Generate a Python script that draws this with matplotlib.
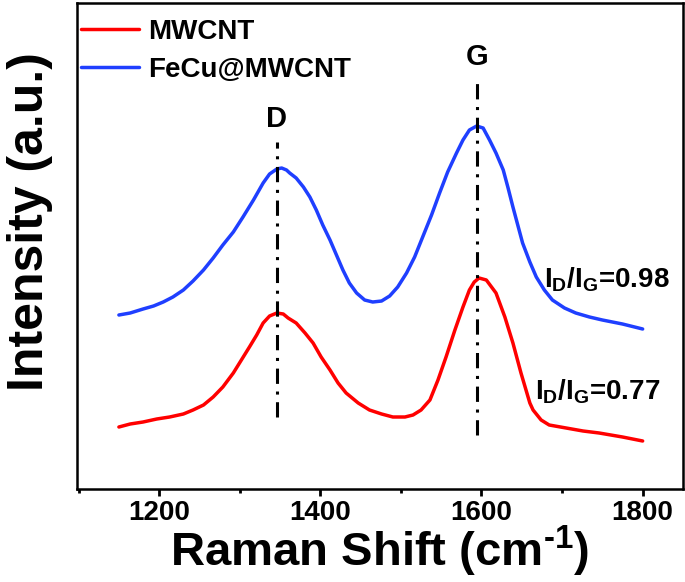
import matplotlib
matplotlib.use("Agg")
import matplotlib.pyplot as plt
from matplotlib.ticker import MultipleLocator

plt.rcParams['font.family'] = ['Liberation Sans', 'DejaVu Sans']
plt.rcParams['font.weight'] = 'bold'
plt.rcParams['mathtext.fontset'] = 'custom'
plt.rcParams['mathtext.rm'] = 'Liberation Sans:bold'
plt.rcParams['mathtext.bf'] = 'Liberation Sans:bold'
plt.rcParams['mathtext.it'] = 'Liberation Sans:bold'

# data (arbitrary intensity units)
shift_blue = [1150, 1164, 1180, 1193, 1205, 1217, 1230, 1242, 1255, 1267, 1279, 1292,
              1304, 1317, 1329, 1337, 1346, 1352, 1358, 1362, 1370, 1379, 1387, 1395,
              1403, 1412, 1420, 1428, 1436, 1445, 1455, 1465, 1476, 1486, 1496, 1507,
              1517, 1527, 1538, 1548, 1558, 1569, 1577, 1585, 1594, 1602, 1610, 1618,
              1627, 1633, 1639, 1645, 1651, 1660, 1668, 1678, 1688, 1703, 1717, 1734,
              1750, 1775, 1800]
int_blue = [174, 176, 180, 183, 187, 192, 199, 208, 219, 231, 244, 257,
            272, 289, 306, 315, 320, 321, 319, 316, 311, 302, 292, 279,
            264, 249, 234, 219, 206, 196, 189, 187, 188, 193, 202, 216,
            232, 252, 274, 296, 317, 336, 349, 359, 363, 361, 349, 336,
            319, 301, 282, 264, 246, 227, 212, 199, 189, 181, 176, 172,
            169, 165, 160]

shift_red = [1150, 1164, 1180, 1197, 1213, 1230, 1242, 1255, 1267, 1279, 1292, 1302,
             1312, 1321, 1329, 1337, 1346, 1354, 1360, 1370, 1381, 1391, 1401, 1412,
             1422, 1432, 1447, 1461, 1476, 1490, 1505, 1515, 1525, 1536, 1546, 1556,
             1567, 1577, 1585, 1591, 1597, 1606, 1618, 1629, 1639, 1649, 1660, 1664,
             1674, 1684, 1705, 1726, 1746, 1775, 1800]
int_red = [62, 65, 67, 70, 72, 75, 79, 84, 92, 102, 116, 129,
           142, 154, 166, 173, 176, 175, 171, 166, 156, 146, 132, 119,
           106, 96, 86, 79, 75, 72, 72, 74, 79, 89, 109, 132,
           159, 182, 199, 207, 211, 209, 196, 172, 146, 116, 86, 79,
           69, 64, 61, 58, 56, 52, 48]

peak_pos = [1346, 1595]
peak_names = ['D', 'G']
peak_ymin = [72, 54]
peak_ymax = [347, 409]

ratio_text = [r'$\mathrm{I_D/I_G}$=0.98', r'$\mathrm{I_D/I_G}$=0.77']
ratio_xy = [(1755, 209), (1744, 97)]

fig = plt.figure(figsize=(6.85, 5.82), dpi=100)
ax = fig.add_axes([0.1124, 0.1598, 0.8846, 0.835])

ax.plot(shift_red, int_red, color='#ff0000', lw=2.5, label='MWCNT',
        solid_joinstyle='round', solid_capstyle='round')
ax.plot(shift_blue, int_blue, color='#1f3fff', lw=2.5, label='FeCu@MWCNT',
        solid_joinstyle='round', solid_capstyle='round')

for x, name, y0, y1 in zip(peak_pos, peak_names, peak_ymin, peak_ymax):
    ax.plot([x, x], [y0, y1], color='k', lw=2.2, linestyle=(0, (5, 2.5, 1, 2.5)))
    ax.text(x, y1 + 9, name, ha='center', va='bottom', fontsize=21, fontweight='bold')

for t, (x, y) in zip(ratio_text, ratio_xy):
    ax.text(x, y, t, ha='center', va='center', fontsize=20, fontweight='bold')

ax.set_xlim(1098, 1850)
ax.set_ylim(0, 486)
ax.set_yticks([])
ax.xaxis.set_major_locator(MultipleLocator(200))
ax.xaxis.set_minor_locator(MultipleLocator(100))
ax.tick_params(axis='x', which='major', direction='out', length=5, width=2, labelsize=20, pad=3)
ax.tick_params(axis='x', which='minor', direction='out', length=3, width=2)
for lab in ax.get_xticklabels():
    lab.set_fontweight('bold')
for s in ax.spines.values():
    s.set_linewidth(1.8)

fig.text(380 / 685, 3 / 582, r'Raman Shift (cm$^{\text{-}\mathbf{1}}$)', ha='center', va='bottom',
         fontsize=34, fontweight='bold')
fig.text(30 / 685, 1 - 222 / 582, 'Intensity (a.u.)', rotation=90, ha='center', va='center',
         fontsize=36, fontweight='bold')

ax.legend(loc='upper left', frameon=False, prop={'size': 20, 'weight': 'bold'},
          handlelength=2.1, handletextpad=0.3, labelspacing=0.45,
          borderpad=0, borderaxespad=0, bbox_to_anchor=(4 / 606, 0.968))

fig.savefig('out.png', dpi=100)
